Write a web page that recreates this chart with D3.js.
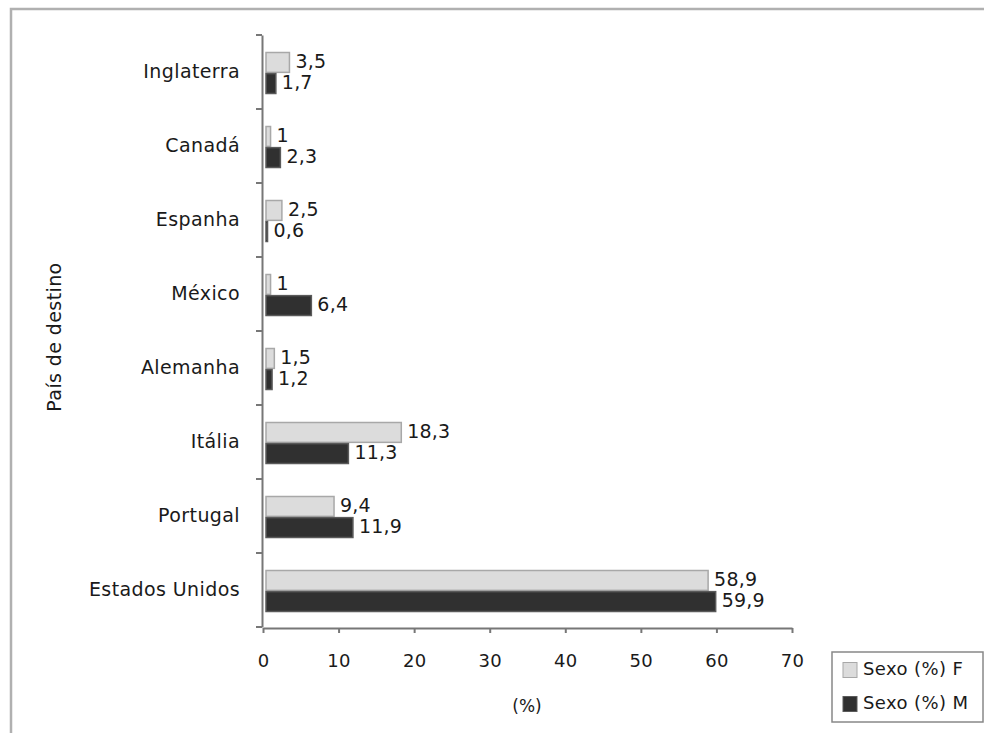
<!DOCTYPE html>
<html>
<head>
<meta charset="utf-8">
<script src="https://cdn.jsdelivr.net/npm/d3@7/dist/d3.min.js"></script>
<style>
  html, body { margin: 0; padding: 0; background: #fff; }
  svg { display: block; font-family: "DejaVu Sans", sans-serif; }
</style>
</head>
<body>
<svg id="chart" width="984" height="733"></svg>
<script>
const categories = ["Inglaterra", "Canadá", "Espanha", "México", "Alemanha", "Itália", "Portugal", "Estados Unidos"];
const seriesF = [3.5, 1, 2.5, 1, 1.5, 18.3, 9.4, 58.9];
const seriesM = [1.7, 2.3, 0.6, 6.4, 1.2, 11.3, 11.9, 59.9];
const seriesNames = ["Sexo (%) F", "Sexo (%) M"];
const xTicks = [0, 10, 20, 30, 40, 50, 60, 70];
const xTitle = "(%)";
const yTitle = "País de destino";

const svg = d3.select("#chart");
const textColor = "#1a1a1a";
const axisColor = "#777";
const fills = ["#dcdcdc", "#303030"];
const strokes = ["#a8a8a8", "#5a5a5a"];

// outer frame
svg.append("path")
  .attr("d", "M11,733 L11,9 L984,9")
  .attr("fill", "none")
  .attr("stroke", "#b0b0b0")
  .attr("stroke-width", 2.5);

const x = d3.scaleLinear().domain([0, 70]).range([263, 792]);
const y = d3.scaleBand().domain(categories).range([35, 627]);
const inner = d3.scaleBand().domain([0, 1]).range([0, 41]).paddingInner(0.06);
const groupOffset = (y.bandwidth() - 41) / 2 + 1;

// bars
const series = [seriesF, seriesM];
series.forEach((vals, si) => {
  const g = svg.append("g");
  g.selectAll("rect").data(categories).join("rect")
    .attr("x", x(0) + 3)
    .attr("y", c => y(c) + groupOffset + inner(si))
    .attr("width", (c, i) => Math.max(0, x(vals[i]) - x(0) - 3))
    .attr("height", inner.bandwidth())
    .attr("fill", fills[si])
    .attr("stroke", strokes[si])
    .attr("stroke-width", 1.5);
  g.selectAll("text").data(categories).join("text")
    .attr("x", (c, i) => x(vals[i]) + 6)
    .attr("y", c => y(c) + groupOffset + inner(si) + inner.bandwidth() / 2)
    .attr("dominant-baseline", "middle")
    .attr("font-size", 19)
    .attr("letter-spacing", 0.2)
    .attr("fill", textColor)
    .text((c, i) => String(vals[i]).replace(".", ","));
});

// y axis
const yAxis = svg.append("g")
  .attr("transform", `translate(${x(0) - 1},0)`)
  .call(d3.axisLeft(y).tickSize(0).tickPadding(22));
yAxis.select(".domain").attr("stroke", axisColor).attr("stroke-width", 2);
yAxis.selectAll("text")
  .attr("font-size", 19)
  .attr("letter-spacing", 0.4)
  .attr("fill", textColor)
  .attr("font-family", "DejaVu Sans");
// boundary ticks
const boundaries = categories.map(c => y(c)).concat([y.range()[1]]);
yAxis.selectAll(".bnd").data(boundaries).join("line")
  .attr("class", "bnd")
  .attr("x1", -6).attr("x2", 0)
  .attr("y1", d => d).attr("y2", d => d)
  .attr("stroke", axisColor).attr("stroke-width", 2);

// x axis
const xAxis = svg.append("g")
  .attr("transform", `translate(0,${y.range()[1] + 1})`)
  .call(d3.axisBottom(x).tickValues(xTicks).tickSize(5).tickPadding(21).tickSizeOuter(0));
xAxis.select(".domain").attr("stroke", axisColor).attr("stroke-width", 2);
xAxis.selectAll(".tick line").attr("stroke", axisColor).attr("stroke-width", 2);
xAxis.selectAll("text")
  .attr("font-size", 18)
  .attr("letter-spacing", 0.3)
  .attr("fill", textColor)
  .attr("font-family", "DejaVu Sans");

// axis titles
svg.append("text")
  .attr("x", 527).attr("y", 707)
  .attr("text-anchor", "middle").attr("dominant-baseline", "middle")
  .attr("font-size", 17).attr("fill", textColor)
  .text(xTitle);
svg.append("text")
  .attr("transform", "translate(55,337) rotate(-90)")
  .attr("text-anchor", "middle").attr("dominant-baseline", "middle")
  .attr("font-size", 19).attr("letter-spacing", 0.4).attr("fill", textColor)
  .text(yTitle);

// legend
const lg = svg.append("g");
lg.append("rect")
  .attr("x", 832).attr("y", 652).attr("width", 151).attr("height", 70)
  .attr("fill", "#fff").attr("stroke", "#888").attr("stroke-width", 1.5);
seriesNames.forEach((n, i) => {
  const yy = 670 + i * 34;
  lg.append("rect")
    .attr("x", 843).attr("y", yy - 7.5).attr("width", 14).attr("height", 15)
    .attr("fill", fills[i]).attr("stroke", strokes[i]).attr("stroke-width", 1);
  lg.append("text")
    .attr("x", 863).attr("y", yy)
    .attr("dominant-baseline", "middle")
    .attr("font-size", 18).attr("letter-spacing", 0.4)
    .attr("fill", textColor)
    .text(n);
});
</script>
</body>
</html>
